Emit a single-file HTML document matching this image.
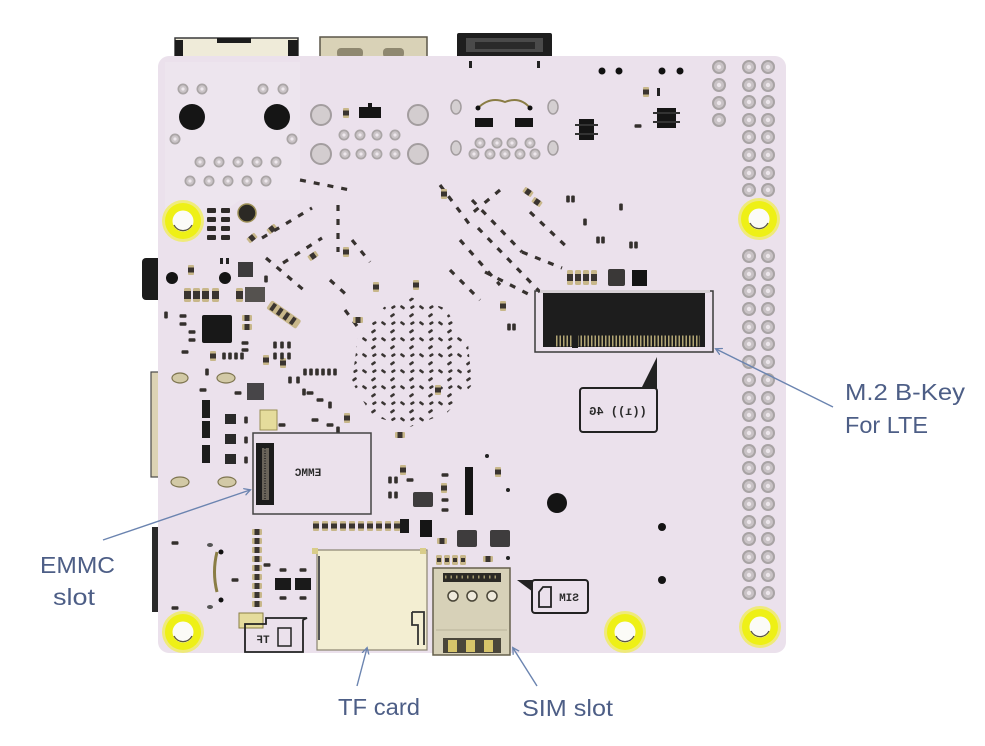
<!DOCTYPE html>
<html><head><meta charset="utf-8"><style>
html,body{margin:0;padding:0;background:#fff;}
svg{display:block;}
.lb{font-family:"Liberation Sans",sans-serif;font-size:23px;fill:#4d5e86;}
.mt{font-family:"Liberation Mono",monospace;fill:#2a2a2a;font-weight:bold;}
</style></head><body>
<svg width="985" height="746" viewBox="0 0 985 746" xmlns="http://www.w3.org/2000/svg">
<defs>
<g id="p"><circle r="7" fill="#a8a3a4"/><circle r="5" fill="#c9c3c6"/><circle r="2.2" fill="#ece6eb"/></g>
<g id="q"><circle r="5.5" fill="#aaa5a6"/><circle r="3.8" fill="#cbc5c8"/><circle r="1.6" fill="#eee8ed"/></g>
<g id="cv"><rect x="-3" y="-5" width="6" height="10" rx="1" fill="#c8b78a"/><rect x="-3" y="-2.5" width="6" height="5" fill="#3a3430"/></g>
<g id="ch"><rect x="-5" y="-3" width="10" height="6" rx="1" fill="#c8b78a"/><rect x="-2.5" y="-3" width="5" height="6" fill="#3a3430"/></g>
<g id="rh"><rect x="-3.5" y="-1.8" width="7" height="3.6" rx="1" fill="#34302d"/></g>
<g id="rv"><rect x="-1.8" y="-3.5" width="3.6" height="7" rx="1" fill="#34302d"/></g>
<g id="yh"><circle r="21" fill="#f2f21e" opacity="0.55"/><circle r="18" fill="#eef016"/><circle r="10.5" fill="#fbfbf7"/><path d="M -9 4 A 10 10 0 0 0 9 4" fill="none" stroke="#5a5540" stroke-width="1.3"/></g>
<pattern id="bga" width="19" height="16" patternUnits="userSpaceOnUse">
<rect x="1" y="2" width="5" height="2.6" rx="1" fill="#3a3533" transform="rotate(35 3.5 3.3)"/>
<rect x="10" y="10" width="5" height="2.6" rx="1" fill="#3a3533" transform="rotate(-35 12.5 11.3)"/>
<rect x="11" y="2" width="4.5" height="2.6" rx="1" fill="#3a3533" transform="rotate(-30 13 3)"/>
</pattern>
<marker id="ar" markerWidth="8" markerHeight="8" refX="6" refY="4" orient="auto" markerUnits="userSpaceOnUse">
<path d="M0,0.5 L6.5,4 L0,7.5" fill="none" stroke="#6b84b0" stroke-width="1.3"/>
</marker>
</defs>

<!-- top connectors -->
<rect x="175" y="38" width="123" height="20" fill="#efebd9" stroke="#3a3a3a" stroke-width="1.5"/>
<rect x="175" y="40" width="8" height="18" fill="#1c1c1c"/>
<rect x="288" y="40" width="10" height="18" fill="#1c1c1c"/>
<rect x="217" y="38" width="34" height="5" fill="#1c1c1c"/>
<rect x="320" y="37" width="107" height="21" fill="#d9d2b7" stroke="#5b5648" stroke-width="1.5"/>
<rect x="337" y="48" width="26" height="10" rx="4" fill="#8f8870"/>
<rect x="383" y="48" width="21" height="10" rx="4" fill="#8f8870"/>
<rect x="457" y="33" width="95" height="25" rx="2" fill="#1e1e1e"/>
<rect x="466" y="38" width="77" height="14" fill="#4a4a4a"/>
<rect x="475" y="42" width="60" height="7" fill="#2a2a2a"/>

<!-- left protrusions -->
<rect x="142" y="258" width="20" height="42" rx="4" fill="#1b1b1b"/>
<rect x="151" y="372" width="9" height="105" fill="#dcd3b4" stroke="#4a4a4a" stroke-width="1.2"/>
<rect x="152" y="527" width="6" height="85" fill="#2a2a2a"/>

<!-- board -->
<rect x="158" y="56" width="628" height="597" rx="11" fill="#ebe1ec"/>
<path d="M165 62 H300 V200 H240 Q200 230 165 230 Z" fill="#ede5ee"/>

<!-- top-left through holes -->
<use href="#q" x="183" y="89"/><use href="#q" x="202" y="89"/>
<use href="#q" x="263" y="89"/><use href="#q" x="283" y="89"/>
<use href="#q" x="175" y="139"/><use href="#q" x="292" y="139"/>
<use href="#q" x="200" y="162"/><use href="#q" x="219" y="162"/><use href="#q" x="238" y="162"/><use href="#q" x="257" y="162"/><use href="#q" x="276" y="162"/>
<use href="#q" x="190" y="181"/><use href="#q" x="209" y="181"/><use href="#q" x="228" y="181"/><use href="#q" x="247" y="181"/><use href="#q" x="266" y="181"/>
<circle cx="192" cy="117" r="13" fill="#151515"/>
<circle cx="277" cy="117" r="13" fill="#151515"/>

<!-- top-middle -->
<circle cx="321" cy="115" r="10" fill="#d3cdcf" stroke="#a39d9f" stroke-width="2"/>
<circle cx="321" cy="154" r="10" fill="#d3cdcf" stroke="#a39d9f" stroke-width="2"/>
<circle cx="418" cy="115" r="10" fill="#d3cdcf" stroke="#a39d9f" stroke-width="2"/>
<circle cx="418" cy="154" r="10" fill="#d3cdcf" stroke="#a39d9f" stroke-width="2"/>
<use href="#q" x="344" y="135"/><use href="#q" x="360" y="135"/><use href="#q" x="377" y="135"/><use href="#q" x="395" y="135"/>
<use href="#q" x="345" y="154"/><use href="#q" x="361" y="154"/><use href="#q" x="377" y="154"/><use href="#q" x="395" y="154"/>
<use href="#cv" x="346" y="113"/>
<rect x="359" y="107" width="22" height="11" fill="#151515"/>
<rect x="368" y="103" width="4" height="4" fill="#151515"/>

<!-- top-right cluster -->
<rect x="469" y="61" width="3" height="7" fill="#222"/><rect x="537" y="61" width="3" height="7" fill="#222"/>
<ellipse cx="456" cy="107" rx="5" ry="7" fill="#d4cfd1" stroke="#a39d9f" stroke-width="1.5"/>
<ellipse cx="553" cy="107" rx="5" ry="7" fill="#d4cfd1" stroke="#a39d9f" stroke-width="1.5"/>
<ellipse cx="456" cy="148" rx="5" ry="7" fill="#d4cfd1" stroke="#a39d9f" stroke-width="1.5"/>
<ellipse cx="553" cy="148" rx="5" ry="7" fill="#d4cfd1" stroke="#a39d9f" stroke-width="1.5"/>
<path d="M478 108 Q490 96 505 102 Q520 96 530 108" fill="none" stroke="#8a7d45" stroke-width="2"/>
<circle cx="478" cy="108" r="2.5" fill="#111"/><circle cx="530" cy="108" r="2.5" fill="#111"/>
<rect x="475" y="118" width="18" height="9" fill="#151515"/>
<rect x="515" y="118" width="18" height="9" fill="#151515"/>
<use href="#q" x="480" y="143"/><use href="#q" x="497" y="143"/><use href="#q" x="512" y="143"/><use href="#q" x="530" y="143"/>
<use href="#q" x="474" y="154"/><use href="#q" x="490" y="154"/><use href="#q" x="505" y="154"/><use href="#q" x="520" y="154"/><use href="#q" x="535" y="154"/>

<!-- far top right -->
<circle cx="602" cy="71" r="3.5" fill="#111"/><circle cx="619" cy="71" r="3.5" fill="#111"/>
<circle cx="662" cy="71" r="3.5" fill="#111"/><circle cx="680" cy="71" r="3.5" fill="#111"/>
<use href="#cv" x="646" y="92"/><rect x="657" y="88" width="3" height="8" fill="#222"/>
<rect x="657" y="108" width="19" height="20" fill="#151515"/>
<rect x="653" y="112" width="27" height="2" fill="#333"/><rect x="653" y="121" width="27" height="2" fill="#333"/>
<rect x="579" y="119" width="15" height="21" fill="#151515"/>
<rect x="575" y="124" width="23" height="2" fill="#333"/><rect x="575" y="133" width="23" height="2" fill="#333"/>
<use href="#rh" x="638" y="126"/>

<!-- header pins -->
<use href="#p" x="719" y="67"/><use href="#p" x="719" y="85"/><use href="#p" x="719" y="103"/><use href="#p" x="719" y="120"/>
<use href="#p" x="749" y="67"/><use href="#p" x="768" y="67"/>
<use href="#p" x="749" y="85"/><use href="#p" x="768" y="85"/>
<use href="#p" x="749" y="102"/><use href="#p" x="768" y="102"/>
<use href="#p" x="749" y="120"/><use href="#p" x="768" y="120"/>
<use href="#p" x="749" y="137"/><use href="#p" x="768" y="137"/>
<use href="#p" x="749" y="155"/><use href="#p" x="768" y="155"/>
<use href="#p" x="749" y="173"/><use href="#p" x="768" y="173"/>
<use href="#p" x="749" y="190"/><use href="#p" x="768" y="190"/>
<use href="#p" x="749" y="256"/><use href="#p" x="768" y="256"/>
<use href="#p" x="749" y="274"/><use href="#p" x="768" y="274"/>
<use href="#p" x="749" y="291"/><use href="#p" x="768" y="291"/>
<use href="#p" x="749" y="309"/><use href="#p" x="768" y="309"/>
<use href="#p" x="749" y="327"/><use href="#p" x="768" y="327"/>
<use href="#p" x="749" y="344"/><use href="#p" x="768" y="344"/>
<use href="#p" x="749" y="362"/><use href="#p" x="768" y="362"/>
<use href="#p" x="749" y="380"/><use href="#p" x="768" y="380"/>
<use href="#p" x="749" y="398"/><use href="#p" x="768" y="398"/>
<use href="#p" x="749" y="415"/><use href="#p" x="768" y="415"/>
<use href="#p" x="749" y="433"/><use href="#p" x="768" y="433"/>
<use href="#p" x="749" y="451"/><use href="#p" x="768" y="451"/>
<use href="#p" x="749" y="468"/><use href="#p" x="768" y="468"/>
<use href="#p" x="749" y="486"/><use href="#p" x="768" y="486"/>
<use href="#p" x="749" y="504"/><use href="#p" x="768" y="504"/>
<use href="#p" x="749" y="522"/><use href="#p" x="768" y="522"/>
<use href="#p" x="749" y="539"/><use href="#p" x="768" y="539"/>
<use href="#p" x="749" y="557"/><use href="#p" x="768" y="557"/>
<use href="#p" x="749" y="575"/><use href="#p" x="768" y="575"/>
<use href="#p" x="749" y="593"/><use href="#p" x="768" y="593"/>

<!-- yellow mounting holes -->
<use href="#yh" x="183" y="221"/>
<use href="#yh" x="759" y="219"/>
<use href="#yh" x="183" y="632"/>
<use href="#yh" x="625" y="632"/>
<use href="#yh" x="760" y="627"/>

<!-- left dense area -->
<rect x="207" y="208" width="9" height="5" rx="1" fill="#2e2a28"/><rect x="221" y="208" width="9" height="5" rx="1" fill="#2e2a28"/>
<rect x="207" y="217" width="9" height="5" rx="1" fill="#2e2a28"/><rect x="221" y="217" width="9" height="5" rx="1" fill="#2e2a28"/>
<rect x="207" y="226" width="9" height="5" rx="1" fill="#2e2a28"/><rect x="221" y="226" width="9" height="5" rx="1" fill="#2e2a28"/>
<rect x="207" y="235" width="9" height="5" rx="1" fill="#2e2a28"/><rect x="221" y="235" width="9" height="5" rx="1" fill="#2e2a28"/>
<circle cx="247" cy="213" r="9" fill="#2b2924" stroke="#9c8f55" stroke-width="1.5"/>
<g transform="rotate(-40 252 238)"><use href="#ch" x="252" y="238"/></g>
<g transform="rotate(-40 272 229)"><use href="#ch" x="272" y="229"/></g>
<rect x="238" y="262" width="15" height="15" fill="#3d3b3d"/>
<rect x="220" y="258" width="3" height="6" fill="#222"/><rect x="226" y="258" width="3" height="6" fill="#222"/>
<circle cx="172" cy="278" r="6" fill="#141414"/>
<circle cx="225" cy="278" r="6" fill="#141414"/>
<use href="#cv" x="191" y="270"/>
<use href="#rv" x="266" y="279"/>
<g><rect x="184" y="288" width="7" height="14" rx="1.5" fill="#c8b78a"/><rect x="184" y="291" width="7" height="8" fill="#3a3430"/>
<rect x="193" y="288" width="7" height="14" rx="1.5" fill="#c8b78a"/><rect x="193" y="291" width="7" height="8" fill="#3a3430"/>
<rect x="202" y="288" width="7" height="14" rx="1.5" fill="#c8b78a"/><rect x="202" y="291" width="7" height="8" fill="#3a3430"/>
<rect x="212" y="288" width="7" height="14" rx="1.5" fill="#c8b78a"/><rect x="212" y="291" width="7" height="8" fill="#3a3430"/>
<rect x="236" y="288" width="7" height="14" rx="1.5" fill="#c8b78a"/><rect x="236" y="291" width="7" height="8" fill="#3a3430"/></g>
<rect x="245" y="287" width="20" height="15" fill="#55524f"/>
<g transform="rotate(35 283 314)"><rect x="266" y="309" width="36" height="10" rx="2" fill="#c8b78a"/>
<rect x="269" y="310" width="4" height="8" fill="#3a3430"/><rect x="277" y="310" width="4" height="8" fill="#3a3430"/><rect x="285" y="310" width="4" height="8" fill="#3a3430"/><rect x="293" y="310" width="4" height="8" fill="#3a3430"/></g>
<rect x="202" y="315" width="30" height="28" rx="2" fill="#181818"/>
<use href="#ch" x="247" y="318"/><use href="#ch" x="247" y="327"/>
<use href="#rh" x="183" y="316"/><use href="#rh" x="183" y="324"/><use href="#rh" x="192" y="332"/><use href="#rh" x="192" y="340"/>
<use href="#rv" x="166" y="315"/><use href="#rh" x="185" y="352"/>
<use href="#rh" x="245" y="343"/><use href="#rh" x="245" y="350"/>
<use href="#cv" x="213" y="356"/><use href="#rv" x="224" y="356"/><use href="#rv" x="230" y="356"/><use href="#rv" x="236" y="356"/><use href="#rv" x="242" y="356"/>
<use href="#rv" x="207" y="372"/><use href="#rh" x="203" y="390"/><use href="#rh" x="238" y="393"/>
<ellipse cx="180" cy="378" rx="8" ry="5" fill="#d2c9a6" stroke="#7e7550" stroke-width="1.2"/>
<ellipse cx="226" cy="378" rx="9" ry="5" fill="#d2c9a6" stroke="#7e7550" stroke-width="1.2"/>
<rect x="247" y="383" width="17" height="17" fill="#474548"/>
<rect x="260" y="410" width="17" height="20" fill="#e5dc9c" stroke="#9a8f55" stroke-width="1"/>
<rect x="202" y="400" width="8" height="18" fill="#1c1c1c"/>
<rect x="202" y="421" width="8" height="17" fill="#1c1c1c"/>
<rect x="202" y="445" width="8" height="18" fill="#1c1c1c"/>
<rect x="225" y="414" width="11" height="10" fill="#2a2a2a"/>
<rect x="225" y="434" width="11" height="10" fill="#2a2a2a"/>
<rect x="225" y="454" width="11" height="10" fill="#2a2a2a"/>
<use href="#rv" x="246" y="420"/><use href="#rv" x="246" y="440"/><use href="#rv" x="246" y="460"/>
<ellipse cx="180" cy="482" rx="9" ry="5" fill="#d2c9a6" stroke="#7e7550" stroke-width="1.2"/>
<ellipse cx="227" cy="482" rx="9" ry="5" fill="#d2c9a6" stroke="#7e7550" stroke-width="1.2"/>
<use href="#rv" x="290" y="380"/><use href="#rv" x="298" y="380"/><use href="#rv" x="304" y="392"/>
<use href="#cv" x="266" y="360"/><use href="#cv" x="283" y="363"/>
<use href="#rv" x="275" y="345"/><use href="#rv" x="282" y="345"/><use href="#rv" x="289" y="345"/>
<use href="#rv" x="275" y="356"/><use href="#rv" x="282" y="356"/><use href="#rv" x="289" y="356"/>
<use href="#rv" x="305" y="372"/><use href="#rv" x="311" y="372"/><use href="#rv" x="317" y="372"/><use href="#rv" x="323" y="372"/><use href="#rv" x="329" y="372"/><use href="#rv" x="335" y="372"/>
<use href="#rh" x="310" y="393"/><use href="#rh" x="320" y="400"/><use href="#rv" x="330" y="405"/>
<use href="#rh" x="315" y="420"/><use href="#rh" x="330" y="425"/><use href="#rv" x="338" y="430"/>
<use href="#rh" x="282" y="425"/><use href="#cv" x="347" y="418"/>

<!-- dash chains (left) -->
<g fill="none" stroke="#36312e" stroke-width="3.2" stroke-dasharray="6 8">
<line x1="262" y1="238" x2="312" y2="208"/>
<line x1="266" y1="258" x2="306" y2="292"/>
<line x1="283" y1="263" x2="322" y2="238"/>
<line x1="338" y1="205" x2="338" y2="252"/>
<line x1="300" y1="180" x2="350" y2="190"/>
<line x1="330" y1="280" x2="350" y2="298"/>
<line x1="352" y1="240" x2="370" y2="262"/>
<line x1="345" y1="310" x2="360" y2="330"/>
</g>
<g transform="rotate(-35 313 256)"><use href="#ch" x="313" y="256"/></g>
<use href="#cv" x="346" y="252"/>

<!-- right chains -->
<g fill="none" stroke="#36312e" stroke-width="3.2" stroke-dasharray="6 8">
<line x1="472" y1="200" x2="522" y2="252"/>
<line x1="522" y1="252" x2="562" y2="268"/>
<line x1="530" y1="212" x2="570" y2="250"/>
<line x1="478" y1="228" x2="540" y2="292"/>
<line x1="485" y1="272" x2="532" y2="296"/>
<line x1="440" y1="185" x2="470" y2="225"/>
<line x1="460" y1="240" x2="500" y2="285"/>
<line x1="450" y1="270" x2="480" y2="300"/>
<line x1="500" y1="190" x2="470" y2="215"/>
</g>
<g transform="rotate(35 528 192)"><use href="#ch" x="528" y="192"/></g>
<g transform="rotate(35 537 202)"><use href="#ch" x="537" y="202"/></g>
<use href="#cv" x="444" y="194"/><use href="#cv" x="416" y="285"/><use href="#cv" x="503" y="306"/>
<use href="#rv" x="568" y="199"/><use href="#rv" x="573" y="199"/>
<use href="#rv" x="598" y="240"/><use href="#rv" x="603" y="240"/>
<use href="#rv" x="509" y="327"/><use href="#rv" x="514" y="327"/>
<use href="#rv" x="585" y="222"/><use href="#rv" x="621" y="207"/>

<!-- BGA cluster -->
<polygon points="410,297 445,308 468,343 472,385 447,413 410,427 372,416 352,382 358,336 384,307" fill="url(#bga)"/>
<use href="#cv" x="376" y="287"/><use href="#ch" x="358" y="320"/><use href="#ch" x="400" y="435"/>
<use href="#cv" x="438" y="390"/>

<!-- M.2 area small components -->
<rect x="567" y="270" width="6" height="15" rx="1.5" fill="#c8b78a"/><rect x="567" y="274" width="6" height="7" fill="#3a3430"/>
<rect x="575" y="270" width="6" height="15" rx="1.5" fill="#c8b78a"/><rect x="575" y="274" width="6" height="7" fill="#3a3430"/>
<rect x="583" y="270" width="6" height="15" rx="1.5" fill="#c8b78a"/><rect x="583" y="274" width="6" height="7" fill="#3a3430"/>
<rect x="591" y="270" width="6" height="15" rx="1.5" fill="#c8b78a"/><rect x="591" y="274" width="6" height="7" fill="#3a3430"/>
<rect x="608" y="269" width="17" height="17" rx="2" fill="#3a3837"/>
<rect x="632" y="270" width="15" height="16" fill="#141414"/>
<use href="#rv" x="631" y="245"/><use href="#rv" x="636" y="245"/>

<!-- M.2 connector -->
<rect x="535" y="291" width="178" height="61" fill="none" stroke="#3a3a3a" stroke-width="1.5"/>
<rect x="543" y="293" width="162" height="54" fill="#1d1d1d"/>
<line x1="556" y1="341" x2="700" y2="341" stroke="#b3a675" stroke-width="11" stroke-dasharray="1.5 2"/>
<rect x="572" y="334" width="6" height="14" fill="#1d1d1d"/>
<rect x="540" y="290" width="170" height="3" fill="#d6d0d4"/>

<!-- 4G label -->
<polygon points="641,389 657,389 657,357" fill="#222"/>
<rect x="580" y="388" width="77" height="44" rx="3" fill="none" stroke="#222" stroke-width="2"/>
<text transform="translate(618,415) scale(-1,1)" text-anchor="middle" class="mt" font-size="12">((ı)) 4G</text>

<!-- EMMC -->
<rect x="253" y="433" width="118" height="81" fill="none" stroke="#444" stroke-width="1.5"/>
<rect x="256" y="443" width="18" height="62" fill="#1c1c1c"/>
<rect x="262" y="448" width="7" height="52" fill="#6a645a"/>
<line x1="265" y1="448" x2="265" y2="500" stroke="#222" stroke-width="1.5" stroke-dasharray="1 1.5"/>
<text transform="translate(308,476) scale(-1,1)" text-anchor="middle" class="mt" font-size="11">EMMC</text>

<!-- right of EMMC / middle bottom -->
<use href="#rv" x="390" y="480"/><use href="#rv" x="396" y="480"/><use href="#rv" x="390" y="495"/><use href="#rv" x="396" y="495"/>
<use href="#cv" x="403" y="470"/><use href="#rh" x="410" y="480"/>
<rect x="413" y="492" width="20" height="15" rx="2" fill="#3e3c3d"/>
<rect x="420" y="520" width="12" height="17" fill="#151515"/>
<use href="#cv" x="444" y="488"/><use href="#rh" x="445" y="475"/><use href="#rh" x="445" y="500"/><use href="#rh" x="445" y="510"/>
<rect x="465" y="467" width="8" height="48" fill="#151515"/>
<use href="#cv" x="498" y="472"/><circle cx="508" cy="490" r="2" fill="#222"/><circle cx="487" cy="456" r="2" fill="#222"/>
<rect x="457" y="530" width="20" height="17" rx="2" fill="#3e3c3d"/>
<rect x="490" y="530" width="20" height="17" rx="2" fill="#3e3c3d"/>
<use href="#ch" x="442" y="541"/>
<rect x="436" y="555" width="6" height="10" rx="1.5" fill="#c8b78a"/><rect x="444" y="555" width="6" height="10" rx="1.5" fill="#c8b78a"/>
<rect x="452" y="555" width="6" height="10" rx="1.5" fill="#c8b78a"/><rect x="460" y="555" width="6" height="10" rx="1.5" fill="#c8b78a"/>
<rect x="437" y="558" width="4" height="4" fill="#3a3430"/><rect x="445" y="558" width="4" height="4" fill="#3a3430"/><rect x="453" y="558" width="4" height="4" fill="#3a3430"/><rect x="461" y="558" width="4" height="4" fill="#3a3430"/>
<use href="#ch" x="488" y="559"/><circle cx="508" cy="558" r="2" fill="#222"/>

<!-- below EMMC row -->
<g>
<use href="#cv" x="316" y="526"/><use href="#cv" x="325" y="526"/><use href="#cv" x="334" y="526"/><use href="#cv" x="343" y="526"/>
<use href="#cv" x="352" y="526"/><use href="#cv" x="361" y="526"/><use href="#cv" x="370" y="526"/><use href="#cv" x="379" y="526"/>
<use href="#cv" x="388" y="526"/><use href="#cv" x="397" y="526"/>
<rect x="400" y="519" width="9" height="14" fill="#1a1a1a"/>
</g>
<g>
<use href="#ch" x="257" y="532"/><use href="#ch" x="257" y="541"/><use href="#ch" x="257" y="550"/><use href="#ch" x="257" y="559"/>
<use href="#ch" x="257" y="568"/><use href="#ch" x="257" y="577"/><use href="#ch" x="257" y="586"/><use href="#ch" x="257" y="595"/><use href="#ch" x="257" y="604"/>
</g>
<rect x="275" y="578" width="16" height="12" fill="#1a1a1a"/><rect x="295" y="578" width="16" height="12" fill="#1a1a1a"/>
<use href="#rh" x="283" y="570"/><use href="#rh" x="303" y="570"/><use href="#rh" x="283" y="598"/><use href="#rh" x="303" y="598"/>
<use href="#rh" x="267" y="565"/>
<use href="#rh" x="175" y="543"/><use href="#rh" x="175" y="608"/><use href="#rh" x="235" y="580"/>
<path d="M217 552 Q212 572 217 592" fill="none" stroke="#8a7d45" stroke-width="3"/>
<circle cx="221" cy="552" r="2.5" fill="#111"/><circle cx="221" cy="600" r="2.5" fill="#111"/>
<ellipse cx="210" cy="545" rx="3" ry="2" fill="#555"/><ellipse cx="210" cy="607" rx="3" ry="2" fill="#555"/>
<rect x="239" y="613" width="24" height="15" fill="#e5dc9c" stroke="#8a7f45" stroke-width="1"/>

<!-- TF label -->
<path d="M245 624 V652 H303 V620 L307 618 H266 V624 Z" fill="none" stroke="#222" stroke-width="1.8"/>
<text transform="translate(263,643) scale(-1,1)" text-anchor="middle" class="mt" font-size="11">TF</text>
<path d="M278 628 H291 V646 H278 Z" fill="none" stroke="#222" stroke-width="1.5"/>

<!-- TF card -->
<rect x="317" y="550" width="110" height="100" fill="#f3eed2" stroke="#8a8470" stroke-width="1.2"/>
<line x1="319" y1="556" x2="319" y2="640" stroke="#555" stroke-width="2"/>
<path d="M412 612 H424 V645 M412 612 V625 H418 V645" fill="none" stroke="#333" stroke-width="1.8"/>
<rect x="312" y="548" width="6" height="6" fill="#d9cd8a"/><rect x="420" y="548" width="6" height="6" fill="#d9cd8a"/>

<!-- SIM holder -->
<rect x="433" y="568" width="77" height="87" fill="#d7d1b8" stroke="#66604c" stroke-width="1.5"/>
<rect x="443" y="573" width="58" height="9" fill="#2c2a26"/>
<line x1="445" y1="577" x2="499" y2="577" stroke="#a49a70" stroke-width="3" stroke-dasharray="1.5 4"/>
<circle cx="453" cy="596" r="5" fill="#efeadc" stroke="#4a4638" stroke-width="1.5"/>
<circle cx="472" cy="596" r="5" fill="#efeadc" stroke="#4a4638" stroke-width="1.5"/>
<circle cx="492" cy="596" r="5" fill="#efeadc" stroke="#4a4638" stroke-width="1.5"/>
<rect x="443" y="638" width="58" height="15" fill="#4a463a"/>
<rect x="448" y="640" width="9" height="12" fill="#d6c46a"/>
<rect x="466" y="640" width="9" height="12" fill="#d6c46a"/>
<rect x="484" y="640" width="9" height="12" fill="#d6c46a"/>
<line x1="436" y1="630" x2="507" y2="630" stroke="#b9b29a" stroke-width="1"/>

<!-- SIM label -->
<polygon points="517,580 533,580 533,592" fill="#222"/>
<rect x="532" y="580" width="56" height="33" rx="3" fill="none" stroke="#222" stroke-width="2"/>
<path d="M539 592 L543 587 H551 V607 H539 Z" fill="none" stroke="#222" stroke-width="1.8"/>
<text transform="translate(569,601) scale(-1,1)" text-anchor="middle" class="mt" font-size="11">SIM</text>

<!-- bottom right dots -->
<circle cx="557" cy="503" r="10" fill="#141414"/>
<circle cx="662" cy="527" r="4" fill="#141414"/>
<circle cx="662" cy="580" r="4" fill="#141414"/>

<!-- leader lines -->
<g stroke="#6b84b0" stroke-width="1.4" fill="none">
<line x1="833" y1="407" x2="716" y2="349" marker-end="url(#ar)"/>
<line x1="103" y1="540" x2="250" y2="490" marker-end="url(#ar)"/>
<line x1="357" y1="686" x2="367" y2="648" marker-end="url(#ar)"/>
<line x1="537" y1="686" x2="513" y2="648" marker-end="url(#ar)"/>
</g>

<!-- labels -->
<text x="845" y="400" class="lb" textLength="120" lengthAdjust="spacingAndGlyphs">M.2 B-Key</text>
<text x="845" y="433" class="lb" textLength="83" lengthAdjust="spacingAndGlyphs">For LTE</text>
<text x="40" y="573" class="lb" textLength="75" lengthAdjust="spacingAndGlyphs">EMMC</text>
<text x="53" y="605" class="lb" textLength="42" lengthAdjust="spacingAndGlyphs">slot</text>
<text x="338" y="715" class="lb" textLength="82" lengthAdjust="spacingAndGlyphs">TF card</text>
<text x="522" y="716" class="lb" textLength="91" lengthAdjust="spacingAndGlyphs">SIM slot</text>
</svg>
</body></html>
